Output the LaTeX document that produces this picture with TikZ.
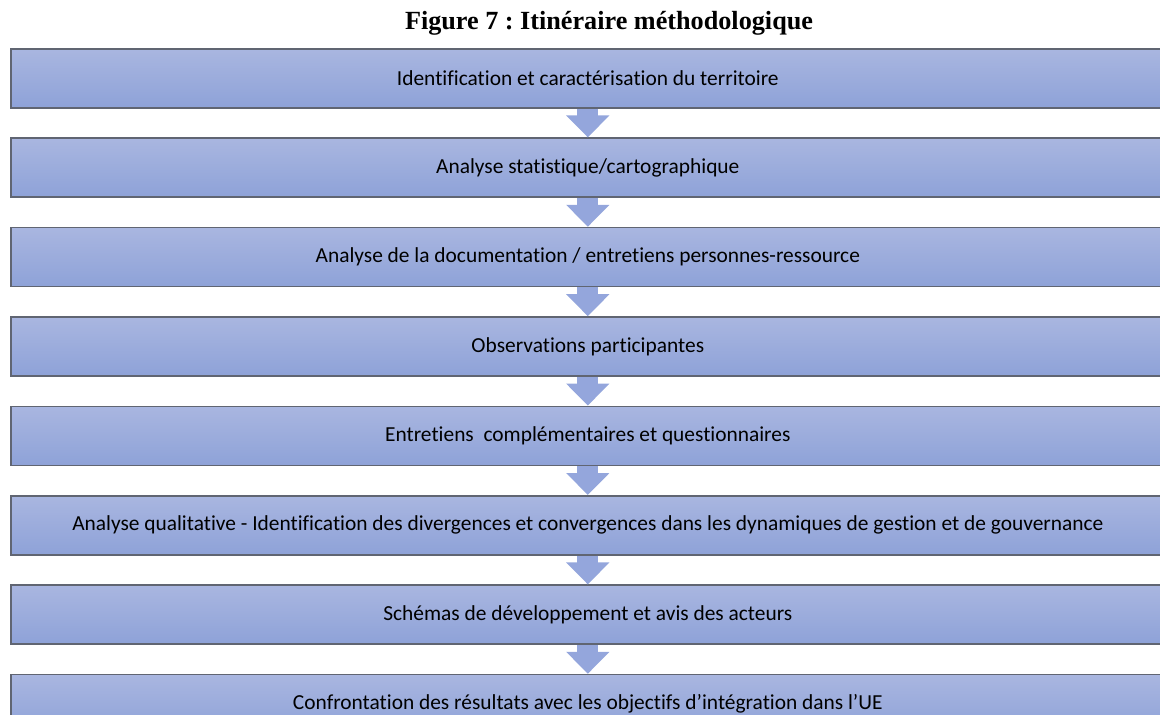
\documentclass[tikz,border=0pt]{standalone}
\usepackage{fontspec}
\setmainfont{Carlito}[Ligatures=NoCommon]
\newfontfamily\titlefont{Liberation Serif}
\usepackage{xcolor}
\usepackage{tikz}
\usetikzlibrary{positioning,arrows.meta}
\definecolor{boxtop}{RGB}{169,182,224}
\definecolor{boxbot}{RGB}{142,162,216}
\definecolor{boxline}{RGB}{96,101,114}
\definecolor{arrowblue}{RGB}{148,166,220}
\frenchspacing

\begin{document}
\begin{tikzpicture}[x=0.5pt,y=-0.5pt,
    stepbox/.style={draw=boxline, line width=0.8pt, top color=boxtop, bottom color=boxbot,
        minimum width=577pt, minimum height=29.5pt, inner sep=0pt, font=\fontsize{10.7}{12}\selectfont},
    downarrow/.style={draw=arrowblue, line width=10.5pt,
        -{Triangle[width=21pt,length=11pt,fill=arrowblue]}}]
    \useasboundingbox (0,0) rectangle (1160,715);
         % title
    \node (title) at (609,23) {\titlefont\bfseries\fontsize{13.1}{15}\selectfont Figure 7 : Itinéraire méthodologique};

    % steps
    \node[stepbox, anchor=north west] (s1) at (10,48) {Identification et caractérisation du territoire};
    \node[stepbox, below=14.4pt of s1] (s2) {Analyse statistique/cartographique};
    \node[stepbox, below=14.4pt of s2] (s3) {Analyse de la documentation / entretiens personnes-ressource};
    \node[stepbox, below=14.4pt of s3] (s4) {Observations participantes};
    \node[stepbox, below=14.4pt of s4] (s5) {Entretiens~ complémentaires et questionnaires};
    \node[stepbox, below=14.4pt of s5] (s6) {Analyse qualitative - Identification des divergences et convergences dans les dynamiques de gestion et de gouvernance};
    \node[stepbox, below=14.4pt of s6] (s7) {Schémas de développement et avis des acteurs};
    \node[stepbox, below=14.4pt of s7] (s8) {Confrontation des résultats avec les objectifs d’intégration dans l’UE};

    % arrows
    \draw[downarrow] (s1.south) -- (s2.north);
    \draw[downarrow] (s2.south) -- (s3.north);
    \draw[downarrow] (s3.south) -- (s4.north);
    \draw[downarrow] (s4.south) -- (s5.north);
    \draw[downarrow] (s5.south) -- (s6.north);
    \draw[downarrow] (s6.south) -- (s7.north);
    \draw[downarrow] (s7.south) -- (s8.north);
\end{tikzpicture}
\end{document}
